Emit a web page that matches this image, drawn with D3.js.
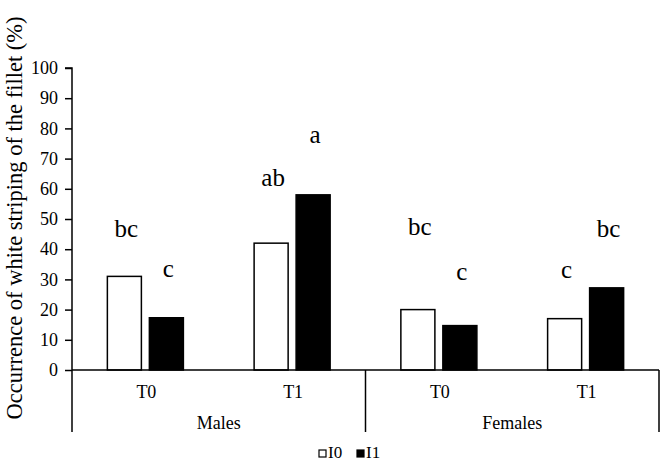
<!DOCTYPE html>
<html>
<head>
<meta charset="utf-8">
<script src="https://cdn.jsdelivr.net/npm/d3@7"></script>
<style>
  html, body { margin: 0; padding: 0; background: #fff; }
  svg { display: block; }
  svg text { font-family: "Liberation Serif", "Times New Roman", serif !important; fill: #000; }
</style>
</head>
<body>
<svg id="chart" width="664" height="463"></svg>
<script>
// ---- data ----
const groups = ["Males", "Females"];
const times = ["T0", "T1"];
const seriesNames = ["I0", "I1"];
const valuesI0 = [31, 42, 20, 17];
const valuesI1 = [17.3, 58, 14.7, 27.2];
const lettersI0 = ["bc", "ab", "bc", "c"];
const lettersI1 = ["c", "a", "c", "bc"];
const letterPosI0 = [44.2, 60.8, 44.7, 30.5];
const letterPosI1 = [30.8, 75.2, 29.8, 44.2];
const yTicks = [0, 10, 20, 30, 40, 50, 60, 70, 80, 90, 100];
const yTitle = "Occurrence of white striping of the fillet (%)";

// ---- layout ----
const serif = "'Liberation Serif', 'Times New Roman', serif";
const svg = d3.select("#chart");
svg.append("rect").attr("width", 664).attr("height", 463).attr("fill", "#fff");
const mLeft = 72, mRight = 659, mTop = 68, mBottom = 370;

const slots = [];
groups.forEach(g => times.forEach(t => slots.push(g + "|" + t)));

const y = d3.scaleLinear().domain([0, 100]).range([mBottom, mTop]);
const x = d3.scaleBand().domain(slots).range([mLeft, mRight]).padding(0);
const xs = d3.scaleBand().domain(seriesNames).range([0, x.bandwidth()])
  .paddingInner(0.19).paddingOuter(0.842);

// y axis
const yAxis = d3.axisLeft(y).tickValues(yTicks).tickSize(7).tickPadding(7);
const gy = svg.append("g").attr("transform", `translate(${mLeft},0)`).call(yAxis);
gy.attr("font-family", null);
gy.select(".domain").attr("stroke", "#000").attr("stroke-width", 1.5).attr("d", `M-7,${mTop}H0V${mBottom}`);
gy.selectAll(".tick line").attr("stroke", "#000").attr("stroke-width", 1.5);
gy.selectAll(".tick text").attr("font-size", 18).style("font-family", serif);

// bars
const rows = slots.map((s, i) => ({ slot: s, vals: [valuesI0[i], valuesI1[i]], letters: [lettersI0[i], lettersI1[i]], lpos: [letterPosI0[i], letterPosI1[i]] }));
const fills = { I0: "#fff", I1: "#000" };
rows.forEach(r => {
  seriesNames.forEach((sn, k) => {
    const bx = x(r.slot) + xs(sn);
    svg.append("rect")
      .attr("x", bx).attr("y", y(r.vals[k]))
      .attr("width", xs.bandwidth()).attr("height", y(0) - y(r.vals[k]))
      .attr("fill", fills[sn]).attr("stroke", "#000").attr("stroke-width", 1.5);
    svg.append("text")
      .attr("x", bx + xs.bandwidth() / 2 + 2).attr("y", y(r.lpos[k]))
      .attr("text-anchor", "middle").attr("font-size", 25).style("font-family", serif)
      .text(r.letters[k]);
  });
});

// x axis
svg.append("line").attr("x1", mLeft).attr("x2", mRight).attr("y1", mBottom).attr("y2", mBottom)
  .attr("stroke", "#000").attr("stroke-width", 1.5);
const groupScale = d3.scaleBand().domain(groups).range([mLeft, mRight]);
const seps = [mLeft].concat(groups.map(g => groupScale(g) + groupScale.bandwidth()));
seps.forEach(sx => {
  svg.append("line").attr("x1", sx).attr("x2", sx).attr("y1", mBottom).attr("y2", 432)
    .attr("stroke", "#000").attr("stroke-width", 1.5);
});
slots.forEach(s => {
  svg.append("text").attr("x", x(s) + x.bandwidth() / 2 + 1).attr("y", 398)
    .attr("text-anchor", "middle").attr("font-size", 18).style("font-family", serif).text(s.split("|")[1]);
});
groups.forEach(g => {
  svg.append("text").attr("x", groupScale(g) + groupScale.bandwidth() / 2).attr("y", 429)
    .attr("text-anchor", "middle").attr("font-size", 18).style("font-family", serif).text(g);
});

// y title
svg.append("text")
  .attr("transform", "translate(22,218) rotate(-90)")
  .attr("text-anchor", "middle").attr("font-size", 22.5).style("font-family", serif)
  .text(yTitle);

// legend
const legend = svg.append("g").attr("transform", "translate(319,450)");
seriesNames.forEach((sn, k) => {
  const gx = k * 38;
  legend.append("rect").attr("x", gx).attr("y", 0).attr("width", 7).attr("height", 7)
    .attr("fill", fills[sn]).attr("stroke", "#000").attr("stroke-width", 1.2);
  legend.append("text").attr("x", gx + 9).attr("y", 8).attr("font-size", 17).style("font-family", serif).text(sn);
});
</script>
</body>
</html>
